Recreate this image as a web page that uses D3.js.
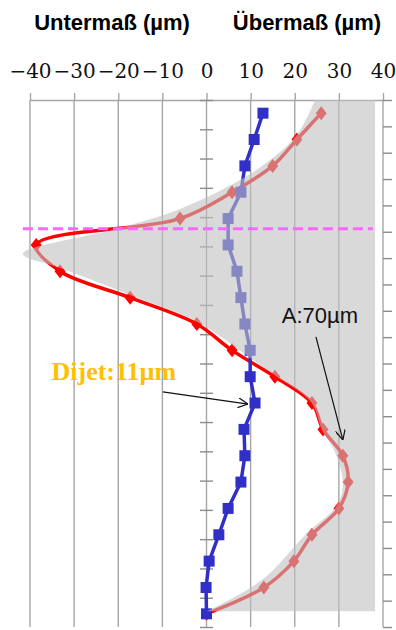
<!DOCTYPE html>
<html>
<head>
<meta charset="utf-8">
<script src="https://cdn.jsdelivr.net/npm/d3@7"></script>
<style>
  body { margin: 0; background: #fff; }
</style>
</head>
<body>
<div id="grafico"></div>
<script>
// Messpositionen (von oben nach unten)
const tiefe = [1, 2, 3, 4, 5, 6, 7, 8, 9, 10, 11, 12, 13, 14, 15, 16, 17, 18, 19, 20];

// Profil (rot) und Dijet (blau), in µm
const profil = [26, 20.5, 15, 5.8, -6, -38.6, -33.2, -17.3, -2.2, 5.8,
                15.5, 23.9, 26.4, 30.9, 32.1, 30, 23.9, 19.8, 13, 0];
const dijet = [12.8, 10.8, 8.7, 7.8, 4.9, 4.9, 6.9, 7.8, 8.7, 9.9,
               9.9, 11, 8.5, 8.7, 7.8, 4.9, 2.8, 0.6, -0.1, 0];

// grau hinterlegte Toleranzfläche (Grenzlinie links)
const huelleTiefe = [0.5, 1.83, 2.78, 3.54, 4.64, 5.36, 6.34, 6.87, 7.9, 8.92,
                     10.29, 11.0, 11.96, 13.02, 13.78, 15.0, 15.87, 16.93, 18.71, 19.9];
const huelleWert = [24.6, 20.5, 14.4, 7.6, -6, -19.6, -41.6, -33.2, -17.3, -2.2,
                    9.9, 16, 23.7, 26.2, 28.9, 30.9, 29.6, 22.8, 12.6, 0.1];
const huelleRand = 38.2;

const xTicks = [-40, -30, -20, -10, 0, 10, 20, 30, 40];

// Referenzlinie und Beschriftungen
const linieTiefe = 5.39;
const linieVonBis = [-41.6, 37.7];
const dijetText = { text: "Dijet:11µm", x: -21, t: 11.13, pfeilVon: [-9.9, 11.58], pfeilBis: [9.4, 12.04] };
const aText = { text: "A:70µm", x: 25.7, t: 8.96, pfeilVon: [24.8, 9.49], pfeilBis: [30.9, 13.4] };

const width = 396;
const height = 630;

const svg = d3.select("#grafico")
  .append("svg")
  .attr("width", width)
  .attr("height", height);

const x = d3.scaleLinear().domain([-40, 40]).range([30, 383]);
const y = d3.scaleLinear().domain([0.5, 20.5]).range([100, 627]);
// zweite Teilung an der Nulllinie (18 Abschnitte)
const yLinks = d3.scaleLinear().domain([0, 18]).range([627, 100]);

// Gitterlinien
svg.append("g")
  .selectAll("line")
  .data(xTicks)
  .join("line")
  .attr("x1", d => x(d))
  .attr("x2", d => x(d))
  .attr("y1", y(0.5))
  .attr("y2", y(20.5))
  .attr("stroke", "#a6a6a6")
  .attr("stroke-width", 1.4);

// Achse oben
const achseOben = svg.append("g")
  .attr("transform", `translate(0,${y(0.5)})`)
  .call(d3.axisTop(x).tickValues(xTicks).tickSize(7).tickSizeOuter(0).tickPadding(15));
achseOben.select(".domain").attr("stroke", "#a6a6a6").attr("stroke-width", 1.4);
achseOben.selectAll(".tick line").attr("stroke", "#a6a6a6").attr("stroke-width", 1.4);
achseOben.selectAll("text")
  .style("font-family", "'DejaVu Serif', serif")
  .style("font-size", "20px")
  .attr("fill", "#111");

// Teilstriche an der Nulllinie
const achseNull = svg.append("g")
  .attr("transform", `translate(${x(0) - 6.5},0)`)
  .call(d3.axisRight(yLinks).ticks(18).tickSize(13).tickFormat(""));
achseNull.select(".domain").remove();
achseNull.selectAll(".tick line").attr("stroke", "#8c8c8c").attr("stroke-width", 1.4);

// Teilstriche rechts
const achseRechts = svg.append("g")
  .attr("transform", `translate(${x(40)},0)`)
  .call(d3.axisRight(y).tickValues(d3.range(0.5, 21, 1)).tickSize(9).tickFormat("").tickSizeOuter(0));
achseRechts.select(".domain").remove();
achseRechts.selectAll(".tick line").attr("stroke", "#8c8c8c").attr("stroke-width", 1.4);

// Kopfzeilen
svg.append("text")
  .attr("x", 112)
  .attr("y", 30)
  .attr("text-anchor", "middle")
  .style("font-family", "'Liberation Sans', Arial, sans-serif")
  .style("font-weight", "bold")
  .style("font-size", "22px")
  .text("Untermaß (µm)");
svg.append("text")
  .attr("x", 307)
  .attr("y", 30)
  .attr("text-anchor", "middle")
  .style("font-family", "'Liberation Sans', Arial, sans-serif")
  .style("font-weight", "bold")
  .style("font-size", "22px")
  .text("Übermaß (µm)");

// Profil rot (geglättet)
const rotDaten = tiefe.map((t, i) => ({ t, v: profil[i] }));
const linieGlatt = d3.line().x(d => x(d.v)).y(d => y(d.t)).curve(d3.curveCatmullRom.alpha(0.5));
const linie = d3.line().x(d => x(d.v)).y(d => y(d.t));

svg.append("path")
  .datum(rotDaten)
  .attr("d", linieGlatt)
  .attr("fill", "none")
  .attr("stroke", "#ff0000")
  .attr("stroke-width", 3.5)
  .attr("stroke-linejoin", "round");

svg.append("g")
  .selectAll("path")
  .data(rotDaten)
  .join("path")
  .attr("transform", d => `translate(${x(d.v)},${y(d.t)})`)
  .attr("d", "M0,-7L5.5,0L0,7L-5.5,0Z")
  .attr("fill", "#ff0000");

// Dijet blau
const blauDaten = tiefe.map((t, i) => ({ t, v: dijet[i] }));
svg.append("path")
  .datum(blauDaten)
  .attr("d", linie)
  .attr("fill", "none")
  .attr("stroke", "#3030c8")
  .attr("stroke-width", 3.5);

svg.append("g")
  .selectAll("path")
  .data(blauDaten)
  .join("path")
  .attr("transform", d => `translate(${x(d.v)},${y(d.t)})`)
  .attr("d", d3.symbol(d3.symbolSquare, 121))
  .attr("fill", "#3030c8");

// graue Fläche (halbtransparent darüber)
const huelle = huelleTiefe.map((t, i) => ({ t, v: huelleWert[i] }));
svg.append("path")
  .datum(huelle)
  .attr("d", d3.area()
    .y(d => y(d.t))
    .x0(d => x(d.v))
    .x1(x(huelleRand))
    .curve(d3.curveCatmullRom.alpha(0.5)))
  .attr("fill", "rgb(192,192,192)")
  .attr("fill-opacity", 0.6);

// gestrichelte Linie
svg.append("line")
  .attr("x1", x(linieVonBis[0]))
  .attr("x2", x(linieVonBis[1]))
  .attr("y1", y(linieTiefe))
  .attr("y2", y(linieTiefe))
  .attr("stroke", "#ff66ff")
  .attr("stroke-width", 3)
  .attr("stroke-dasharray", "10,5");

// Pfeile
svg.append("defs").append("marker")
  .attr("id", "pfeil")
  .attr("viewBox", "0 0 10 10")
  .attr("refX", 10)
  .attr("refY", 5)
  .attr("markerWidth", 10)
  .attr("markerHeight", 10)
  .attr("markerUnits", "userSpaceOnUse")
  .attr("orient", "auto")
  .append("path")
  .attr("d", "M0,0L10,5L0,10")
  .attr("fill", "none")
  .attr("stroke", "#111")
  .attr("stroke-width", 1.2);

[dijetText, aText].forEach(a => {
  svg.append("line")
    .attr("x1", x(a.pfeilVon[0]))
    .attr("y1", y(a.pfeilVon[1]))
    .attr("x2", x(a.pfeilBis[0]))
    .attr("y2", y(a.pfeilBis[1]))
    .attr("stroke", "#111")
    .attr("stroke-width", 1.2)
    .attr("marker-end", "url(#pfeil)");
});

svg.append("text")
  .attr("x", x(dijetText.x))
  .attr("y", y(dijetText.t))
  .attr("text-anchor", "middle")
  .style("font-family", "'Liberation Serif', 'Times New Roman', serif")
  .style("font-weight", "bold")
  .style("font-size", "26px")
  .attr("fill", "#ffc000")
  .text(dijetText.text);

svg.append("text")
  .attr("x", x(aText.x))
  .attr("y", y(aText.t))
  .attr("text-anchor", "middle")
  .style("font-family", "'Liberation Sans', Arial, sans-serif")
  .style("font-size", "22px")
  .attr("fill", "#111")
  .text(aText.text);
</script>
</body>
</html>
